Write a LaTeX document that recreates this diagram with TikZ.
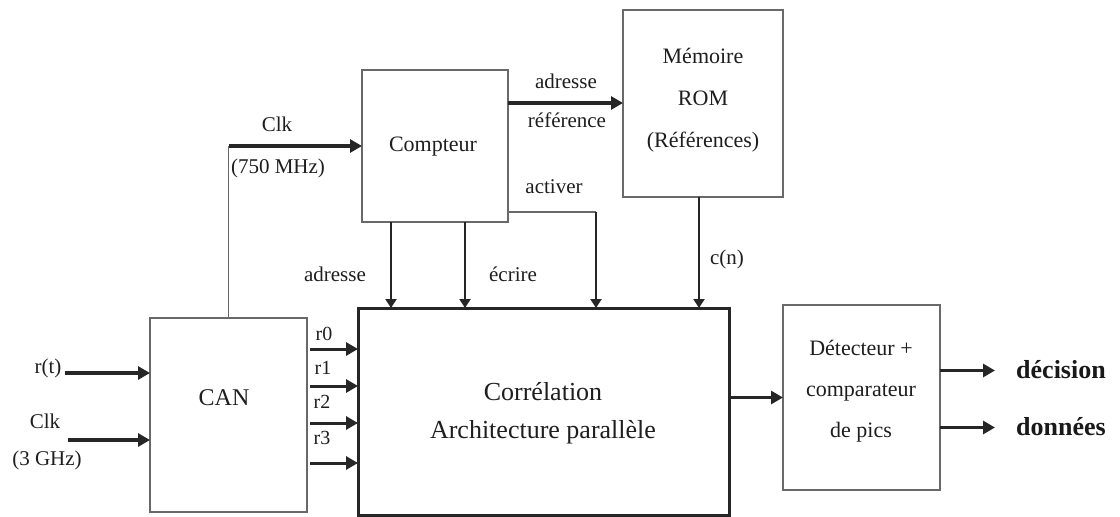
\documentclass[tikz,border=0pt]{standalone}
\usepackage{fontspec}
\setmainfont{Liberation Serif}
\usetikzlibrary{arrows.meta,calc}
\definecolor{boxgray}{RGB}{105,105,105}
\definecolor{txtgray}{RGB}{30,30,30}
\begin{document}
\begin{tikzpicture}[x=1pt,y=-1pt,
  box/.style={draw=boxgray,line width=2pt,fill=white,inner sep=0pt,outer sep=0pt,anchor=north west},
  bigbox/.style={draw=black!85,line width=3pt,fill=white,inner sep=0pt,outer sep=0pt,anchor=north west},
  txt/.style={text=txtgray,font=\fontsize{22}{42}\selectfont,align=center,inner sep=0pt},
  lab/.style={text=txtgray,font=\fontsize{21}{25}\selectfont,inner sep=0pt},
  rlab/.style={text=txtgray,font=\fontsize{20}{22}\selectfont,inner sep=0pt},
  outlab/.style={text=black!90,font=\fontsize{26}{30}\selectfont\bfseries,inner sep=0pt},
  arr/.style={draw=black!85,line width=3.5pt,-{Triangle[length=12pt,width=13pt]}},
  varr/.style={draw=black!85,line width=2.2pt,-{Triangle[length=9pt,width=11pt]}},
  thin/.style={draw=boxgray,line width=1.8pt}
]
\useasboundingbox (0,0) rectangle (1120,517);
% boxes
\node[box,minimum width=157,minimum height=194] (can) at (150,318) {};
\node[bigbox,minimum width=371,minimum height=207] (corr) at (358,308) {};
\node[box,minimum width=146,minimum height=152] (cpt) at (362,70) {};
\node[box,minimum width=160,minimum height=187] (rom) at (623,10) {};
\node[box,minimum width=157,minimum height=185] (det) at (783,305) {};
% box texts
\node[txt,font=\fontsize{24}{28}\selectfont] (cantxt) at (224,398) {CAN};
\node[txt,font=\fontsize{26}{38}\selectfont] (corrtxt) at (543,413) {Corrélation\\Architecture parallèle};
\node[txt] (cpttxt) at (433,147) {Compteur};
\node[txt] (romtxt) at (703,100) {Mémoire\\ROM\\(Références)};
\node[txt,font=\fontsize{22}{41}\selectfont] (dettxt) at (861,391) {Détecteur +\\comparateur\\de pics};
% inputs
\coordinate (rtin) at (65,373);
\coordinate (clkin) at (68,440);
\draw[arr] (rtin) -- (rtin -| can.west);
\draw[arr] (clkin) -- (clkin -| can.west);
\node[lab] (rtlab) at (48,368) {r(t)};
\node[lab] (clklab) at (45,421) {Clk};
\node[lab] (ghzlab) at (47,460) {(3 GHz)};
% r outputs
\foreach \y/\n in {349/0,386/1,423/2,463/3}{
  \coordinate (r\n) at (310,\y);
  \draw[arr,line width=3pt] (r\n) -- (r\n -| corr.west);
}
\node[rlab] (r0lab) at (324,334) {r0};
\node[rlab] (r1lab) at (323,368) {r1};
\node[rlab] (r2lab) at (322,402) {r2};
\node[rlab] (r3lab) at (322,438) {r3};
% clock 750 MHz
\coordinate (clkc) at (can.north |- cpt.west);
\draw[thin] (can.north) -- (clkc);
\draw[arr] (clkc) -- (cpt.west);
\node[lab] (clk2lab) at (277,124) {Clk};
\node[lab] (mhzlab) at (278,168) {(750 MHz)};
% adresse reference
\coordinate (aref) at ([yshift=-33pt]cpt.north east);
\draw[arr] (aref) -- (aref -| rom.west);
\node[lab] (adrlab) at (566,81) {adresse};
\node[lab] (reflab) at (567,120) {référence};
% activer
\coordinate (act) at ([yshift=10pt]cpt.south east);
\coordinate (actc) at (act -| 596,0);
\draw[thin] (act) -- (actc);
\draw[varr] (actc) -- (actc |- corr.north);
\node[lab] (actlab) at (554,187) {activer};
% adresse / ecrire
\coordinate (ad) at (cpt.south -| 391,0);
\coordinate (ec) at (cpt.south -| 465,0);
\draw[varr] (ad) -- (ad |- corr.north);
\draw[varr] (ec) -- (ec |- corr.north);
\node[lab] (adlab) at (335,274) {adresse};
\node[lab] (eclab) at (513,274) {écrire};
% c(n)
\coordinate (cn) at ([xshift=-4pt]rom.south);
\draw[varr] (cn) -- (cn |- corr.north);
\node[lab] (cnlab) at (727,259) {c(n)};
% correlation -> detecteur
\draw[arr] (det.west -| corr.east) -- (det.west);
% outputs
\coordinate (dec) at ([yshift=27pt]det.east);
\coordinate (don) at ([yshift=-30pt]det.east);
\draw[arr] (dec) -- ++(55,0) coordinate (decend);
\draw[arr] (don) -- ++(55,0) coordinate (donend);
\node[outlab,anchor=west] (declab) at (1016,370) {décision};
\node[outlab,anchor=west] (donlab) at (1016,427) {données};
\end{tikzpicture}
\end{document}
